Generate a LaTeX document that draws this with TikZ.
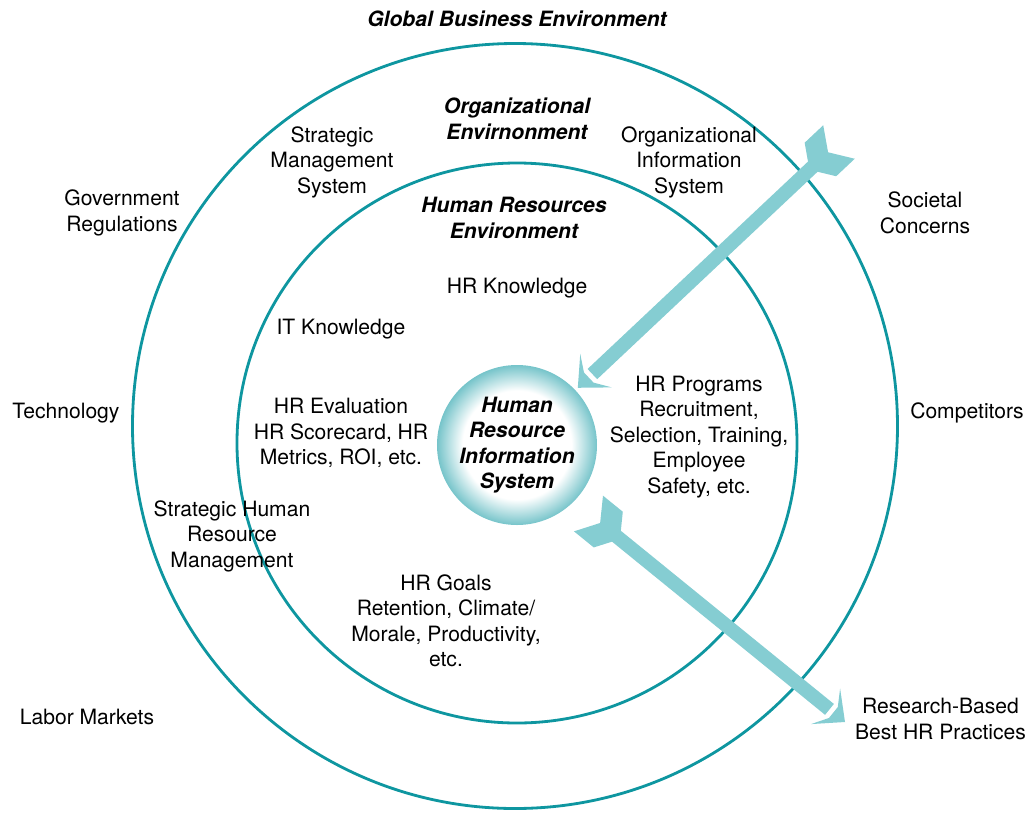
\documentclass[tikz,border=0pt]{standalone}
\usepackage{fontspec}
\setmainfont{TeX Gyre Heros}
\definecolor{ringteal}{RGB}{14,150,160}
\definecolor{arrowteal}{RGB}{133,205,210}
\definecolor{glowteal}{RGB}{118,196,202}
\pgfdeclareradialshading{hrisglow}{\pgfpoint{0bp}{0bp}}{color(0bp)=(white); color(17bp)=(white); color(25bp)=(glowteal); color(50bp)=(glowteal)}

\begin{document}
\begin{tikzpicture}[
		every node/.style={font=\fontsize{12}{14.5}\selectfont, align=center, inner sep=0pt},
		title/.style={font=\fontsize{12}{14.5}\selectfont\bfseries\itshape},
		ring/.style={draw=ringteal, line width=1.6pt},
		bigarrow/.style={draw=arrowteal, line width=0.28cm, shorten <=0.6cm, shorten >=0.4cm},
		fletch/.pic={\fill[arrowteal] (0,0.46) -- (0.51,0.46) -- (0.72,0.14) -- (0.72,-0.14) -- (0.51,-0.46) -- (0,-0.46) -- (0.3,0) -- cycle;},
		bighead/.pic={\fill[arrowteal] (0,0) -- (-0.5,0.46) -- (-0.3,0.14) -- (-0.3,-0.14) -- (-0.5,-0.46) -- cycle;}
	]
		\useasboundingbox (-10.34,-7.38) rectangle (10.24,8.86);

		\draw[ring] (-0.04,0.34) circle (7.65);
		\draw[ring] (0,0) circle (5.6);

		\node[circle, minimum size=3.2cm, outer sep=0.07cm, shading=hrisglow, title] (hris) at (0,-0.04) {Human\\Resource\\Information\\System};

		\node[title] (global) at (0,8.48) {Global Business Environment};
		\node[title] (orgenv) at (0,6.48) {Organizational\\Envirnonment};
		\node[title] (hrenv) at (-0.06,4.5) {Human Resources\\Environment};

		\node (sms) at (-3.7,5.62) {Strategic\\Management\\System};
		\node (ois) at (3.44,5.62) {Organizational\\Information\\System};
		\node (shrm) at (-5.7,-1.86) {Strategic Human\\Resource\\Management};

		\node (govreg) at (-7.9,4.6) {Government\\Regulations};
		\node (tech) at (-9.02,0.6) {Technology};
		\node (labor) at (-8.6,-5.48) {Labor Markets};
		\node (societal) at (8.16,4.6) {Societal\\Concerns};
		\node (competitors) at (9.0,0.6) {Competitors};
		\node (practices) at (8.47,-5.52) {Research-Based\\Best HR Practices};

		\node (hrknow) at (0,3.1) {HR Knowledge};
		\node (itknow) at (-3.52,2.28) {IT Knowledge};
		\node (hreval) at (-3.52,0.2) {HR Evaluation\\HR Scorecard, HR\\Metrics, ROI, etc.};
		\node (hrprog) at (3.64,0.12) {HR Programs\\Recruitment,\\Selection, Training,\\Employee\\Safety, etc.};
		\node (hrgoals) at (-1.42,-3.56) {HR Goals\\Retention, Climate/\\Morale, Productivity,\\etc.};

		\coordinate (oistail) at (6.44,6.02);
		\coordinate (hristail) at (1.43,-1.41);
		\coordinate (practip) at (6.56,-5.58);

		% arrow into the HRIS and arrow out to best practices
		\draw[bigarrow] (oistail) -- (hris) pic[pos=0, sloped, allow upside down] {fletch} pic[pos=1, sloped, allow upside down] {bighead};
		\draw[bigarrow] (hristail) -- (practip) pic[pos=0, sloped, allow upside down] {fletch} pic[pos=1, sloped, allow upside down] {bighead};
	\end{tikzpicture}
\end{document}
